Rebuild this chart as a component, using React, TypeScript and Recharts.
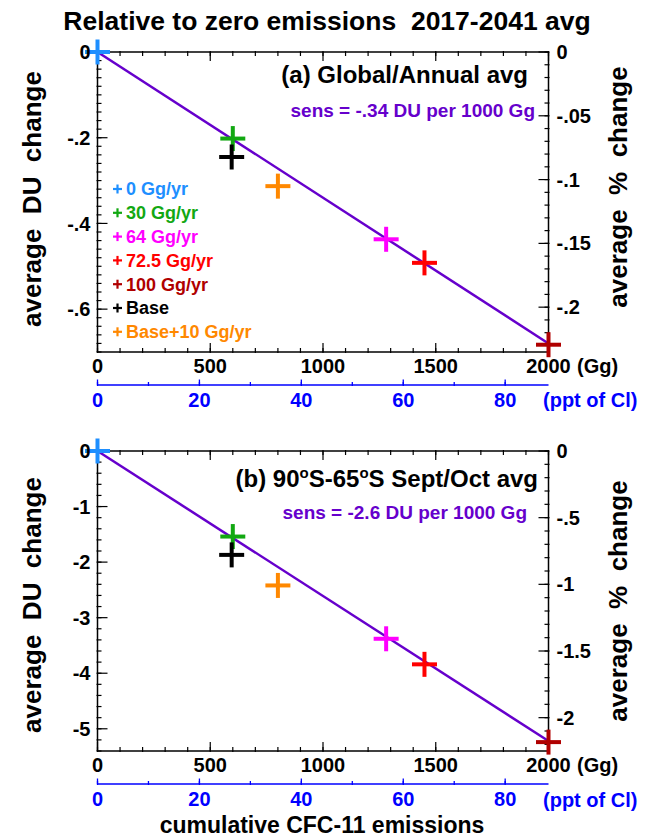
import React from 'react';
import { ComposedChart, Scatter, XAxis, YAxis } from 'recharts';

// ---- data ----
const scenarioLabels = ['0 Gg/yr', '30 Gg/yr', '64 Gg/yr', '72.5 Gg/yr', '100 Gg/yr', 'Base', 'Base+10 Gg/yr'];
const scenarioColors = ['#1e8fff', '#12a812', '#ff00ff', '#ff0000', '#b00000', '#000000', '#ff8800'];
const cumulativeGg = [0, 600, 1280, 1450, 2000, 595, 800];
const globalDU = [0, -0.202, -0.437, -0.492, -0.683, -0.245, -0.313];
const polarDU = [0, -1.54, -3.38, -3.84, -5.24, -1.87, -2.42];
const fitGg = [0, 2000];
const globalFitDU = [0, -0.68];
const polarFitDU = [0, -5.22];
// reference column ozone used for the % axis (DU), and Cl loading for 2000 Gg
const globalOzoneDU = 297.7;
const polarOzoneDU = 240;
const pptPer2000Gg = 88.5;

// ---- tick labels ----
const ggMajorTicks = [0, 500, 1000, 1500, 2000];
const pptMajorTicks = [0, 20, 40, 60, 80];
const globalDUTicks = [0, -0.2, -0.4, -0.6];
const globalPctTicks = [0, -0.05, -0.1, -0.15, -0.2];
const polarDUTicks = [0, -1, -2, -3, -4, -5];
const polarPctTicks = [0, -0.5, -1, -1.5, -2];

const FONT = "'Liberation Sans', Arial, Helvetica, sans-serif";
const LINE_COLOR = '#6600cc';
const PPT_COLOR = '#0000ff';

const r6 = (v: number) => Math.round(v * 1e6) / 1e6;
const stepsDown = (lo: number, step: number) => {
  const out: number[] = [];
  for (let i = 0; ; i++) {
    const v = r6(-i * step);
    if (v < lo - 1e-9) break;
    out.push(v === 0 ? 0 : v);
  }
  return out;
};
const stepsUp = (hi: number, step: number) => {
  const out: number[] = [];
  for (let i = 0; ; i++) {
    const v = r6(i * step);
    if (v > hi + 1e-9) break;
    out.push(v);
  }
  return out;
};
const isMajor = (v: number, majors: number[]) => majors.some((m) => Math.abs(m - v) < 1e-7);
const fmt = (v: number) => (v === 0 ? '0' : String(v).replace('-0.', '-.'));
const majorFormatter = (majors: number[]) => (v: number) => (isMajor(v, majors) ? fmt(v) : '');
const noLabel = () => '';

const tickText = { fill: '#000', fontSize: 20, fontWeight: 'bold', fontFamily: FONT };
const pptTickText = { fill: PPT_COLOR, fontSize: 20, fontWeight: 'bold', fontFamily: FONT };
const blackTick = { stroke: '#000', strokeWidth: 1.2 };
const blueTick = { stroke: PPT_COLOR, strokeWidth: 1.3 };
const frame = { stroke: '#000', strokeWidth: 1.5 };

const CrossShape = (props: any) => {
  const { cx, cy, payload } = props;
  if (cx == null || cy == null) return <g />;
  const c = payload.color;
  const h = 12.5;
  return (
    <g>
      <line x1={cx - h} x2={cx + h} y1={cy} y2={cy} stroke={c} strokeWidth={4} />
      <line x1={cx} x2={cx} y1={cy - h} y2={cy + h} stroke={c} strokeWidth={4} />
    </g>
  );
};

const NoShape = () => <g />;

type PanelProps = {
  du: number[];
  fitDU: number[];
  ozone: number;
  duDomain: [number, number];
  duStep: number;
  duMajors: number[];
  pctDomain: [number, number];
  pctStep: number;
  pctMajors: number[];
};

const ggTicks = stepsUp(2000, 100);
const pptTicks = stepsUp(pptPer2000Gg, 10);

// axis ids are named so that both declaration order and alphabetical order
// stack them the same way (first = closest to the plot)
const Panel = ({ du, fitDU, ozone, duDomain, duStep, duMajors, pctDomain, pctStep, pctMajors }: PanelProps) => {
  const points = cumulativeGg.map((x, i) => ({ x, y: du[i], color: scenarioColors[i], name: scenarioLabels[i] }));
  const fit = fitGg.map((x, i) => ({ x, y: fitDU[i] }));
  // the same points expressed in the secondary units (ppt of Cl, % of column)
  const pctPoints = cumulativeGg.map((x, i) => ({ x, y: (du[i] / ozone) * 100 }));
  const pptPoints = cumulativeGg.map((x, i) => ({ x: (x / 2000) * pptPer2000Gg, y: du[i] }));
  const duTicks = stepsDown(duDomain[0], duStep);
  const pctTicks = stepsDown(pctDomain[0], pctStep);
  const hidden = { shape: NoShape, isAnimationActive: false, legendType: 'none' as const };
  return (
    <ComposedChart width={645} height={420} margin={{ top: 47, right: 0, bottom: 5, left: 0 }}>
      {/* bottom: frame + major ticks, minor ticks + Gg labels, ppt line + major ticks, ppt minor + labels */}
      <XAxis xAxisId="b1" dataKey="x" type="number" orientation="bottom" domain={[0, 2000]}
        allowDataOverflow ticks={ggMajorTicks} interval={0} height={1} axisLine={frame}
        tickLine={blackTick} tickSize={-9} tickMargin={0} tick={tickText} tickFormatter={noLabel} />
      <XAxis xAxisId="b2" dataKey="x" type="number" orientation="bottom" domain={[0, 2000]}
        ticks={ggTicks} interval={0} height={32} axisLine={false} tickLine={blackTick}
        tickSize={-5} tickMargin={11} tick={tickText} tickFormatter={majorFormatter(ggMajorTicks)} />
      <XAxis xAxisId="b3" dataKey="x" type="number" orientation="bottom" domain={[0, pptPer2000Gg]}
        allowDataOverflow ticks={pptMajorTicks} interval={0} height={1}
        axisLine={{ stroke: PPT_COLOR, strokeWidth: 1.5 }} tickLine={blueTick} tickSize={-5.5}
        tickMargin={0} tick={pptTickText} tickFormatter={noLabel} />
      <XAxis xAxisId="b4" dataKey="x" type="number" orientation="bottom" domain={[0, pptPer2000Gg]}
        allowDataOverflow ticks={pptTicks} interval={0} height={29} axisLine={false} tickLine={blueTick}
        tickSize={-4} tickMargin={11} tick={pptTickText} tickFormatter={majorFormatter(pptMajorTicks)} />
      {/* top: frame + major ticks, minor ticks */}
      <XAxis xAxisId="t1" dataKey="x" type="number" orientation="top" domain={[0, 2000]}
        allowDataOverflow ticks={ggMajorTicks} interval={0} height={1} axisLine={frame}
        tickLine={blackTick} tickSize={-9} tickMargin={0} tick={tickText} tickFormatter={noLabel} />
      <XAxis xAxisId="t2" dataKey="x" type="number" orientation="top" domain={[0, 2000]}
        allowDataOverflow ticks={ggTicks} interval={0} height={4} axisLine={false}
        tickLine={blackTick} tickSize={-5} tickMargin={0} tick={tickText} tickFormatter={noLabel} />
      {/* left */}
      <YAxis yAxisId="l1" dataKey="y" type="number" orientation="left" domain={duDomain}
        allowDataOverflow ticks={duMajors} interval={0} width={1} axisLine={frame}
        tickLine={blackTick} tickSize={-10} tickMargin={0} tick={tickText} tickFormatter={noLabel} />
      <YAxis yAxisId="l2" dataKey="y" type="number" orientation="left" domain={duDomain}
        ticks={duTicks} interval={0} width={96.5} axisLine={false} tickLine={blackTick}
        tickSize={-5} tickMargin={11} tick={tickText} tickFormatter={majorFormatter(duMajors)} />
      {/* right */}
      <YAxis yAxisId="r1" dataKey="y" type="number" orientation="right" domain={pctDomain}
        allowDataOverflow ticks={pctMajors} interval={0} width={1} axisLine={frame}
        tickLine={blackTick} tickSize={-10} tickMargin={0} tick={tickText} tickFormatter={noLabel} />
      <YAxis yAxisId="r2" dataKey="y" type="number" orientation="right" domain={pctDomain}
        allowDataOverflow ticks={pctTicks} interval={0} width={95.5} axisLine={false}
        tickLine={blackTick} tickSize={-5} tickMargin={12} tick={tickText}
        tickFormatter={majorFormatter(pctMajors)} />

      {/* hidden series binding the secondary axes */}
      <Scatter data={points} xAxisId="b1" yAxisId="l1" dataKey="y" {...hidden} />
      <Scatter data={pctPoints} xAxisId="t2" yAxisId="r2" dataKey="y" {...hidden} />
      <Scatter data={pctPoints} xAxisId="t1" yAxisId="r1" dataKey="y" {...hidden} />
      <Scatter data={pptPoints} xAxisId="b4" yAxisId="l2" dataKey="y" {...hidden} />
      <Scatter data={pptPoints} xAxisId="b3" yAxisId="l2" dataKey="y" {...hidden} />

      {/* visible series */}
      <Scatter
        data={fit}
        xAxisId="b2"
        yAxisId="l2"
        dataKey="y"
        line={{ stroke: LINE_COLOR, strokeWidth: 2.5 }}
        shape={NoShape}
        isAnimationActive={false}
      />
      <Scatter
        data={points}
        xAxisId="b2"
        yAxisId="l2"
        dataKey="y"
        shape={CrossShape}
        isAnimationActive={false}
      />
    </ComposedChart>
  );
};

const T = (p: any) => (
  <text
    {...p}
    dy="0.36em"
    style={{ fontFamily: FONT, fontWeight: 'bold', whiteSpace: 'pre', ...(p.style || {}) }}
  />
);

const Legend = () => (
  <g>
    {scenarioLabels.map((lab, i) => {
      const y = 189 + 23.8 * i;
      const c = scenarioColors[i];
      return (
        <g key={lab}>
          <line x1={113} x2={122} y1={y} y2={y} stroke={c} strokeWidth={2.2} />
          <line x1={117.5} x2={117.5} y1={y - 4.5} y2={y + 4.5} stroke={c} strokeWidth={2.2} />
          <T x={126} y={y} fill={c} fontSize={18}>{lab}</T>
        </g>
      );
    })}
  </g>
);

export default function App() {
  return (
    <div style={{ position: 'absolute', left: 0, top: 0, width: 645, height: 837, background: '#fff' }}>
      <div style={{ position: 'absolute', left: 0, top: 0 }}>
        <Panel
          du={globalDU}
          fitDU={globalFitDU}
          ozone={globalOzoneDU}
          duDomain={[-0.7, 0]}
          duStep={0.02}
          duMajors={globalDUTicks}
          pctDomain={[-(0.7 / globalOzoneDU) * 100, 0]}
          pctStep={0.01}
          pctMajors={globalPctTicks}
        />
      </div>
      <div style={{ position: 'absolute', left: 0, top: 399 }}>
        <Panel
          du={polarDU}
          fitDU={polarFitDU}
          ozone={polarOzoneDU}
          duDomain={[-5.4, 0]}
          duStep={0.2}
          duMajors={polarDUTicks}
          pctDomain={[-(5.4 / polarOzoneDU) * 100, 0]}
          pctStep={0.1}
          pctMajors={polarPctTicks}
        />
      </div>
      <svg
        width={645}
        height={837}
        style={{ position: 'absolute', left: 0, top: 0, pointerEvents: 'none' }}
      >
        <T x={327} y={20} textAnchor="middle" fontSize={26.5} fill="#000">
          Relative to zero emissions  2017-2041 avg
        </T>
        {/* panel a */}
        <T x={528} y={74} textAnchor="end" fontSize={24} fill="#000">(a) Global/Annual avg</T>
        <T x={535} y={110} textAnchor="end" fontSize={19} fill={LINE_COLOR}>sens = -.34 DU per 1000 Gg</T>
        <Legend />
        <T x={32} y={199} textAnchor="middle" fontSize={26} fill="#000" transform="rotate(-90 32 199)">
          average  DU  change
        </T>
        <T x={618} y={187} textAnchor="middle" fontSize={26} fill="#000" transform="rotate(-90 618 187)">
          average  %  change
        </T>
        <T x={577} y={366} fontSize={20} fill="#000">(Gg)</T>
        <T x={543} y={400} fontSize={20} fill={PPT_COLOR}>(ppt of Cl)</T>
        {/* panel b */}
        <T x={538} y={478} textAnchor="end" fontSize={24} fill="#000">
          (b) 90<tspan fontSize={15} dy={-9}>o</tspan>
          <tspan dy={9}>S-65</tspan>
          <tspan fontSize={15} dy={-9}>o</tspan>
          <tspan dy={9}>S Sept/Oct avg</tspan>
        </T>
        <T x={527} y={512} textAnchor="end" fontSize={19} fill={LINE_COLOR}>sens = -2.6 DU per 1000 Gg</T>
        <T x={32} y={605} textAnchor="middle" fontSize={26} fill="#000" transform="rotate(-90 32 605)">
          average  DU  change
        </T>
        <T x={618} y={601} textAnchor="middle" fontSize={26} fill="#000" transform="rotate(-90 618 601)">
          average  %  change
        </T>
        <T x={577} y={765} fontSize={20} fill="#000">(Gg)</T>
        <T x={543} y={800} fontSize={20} fill={PPT_COLOR}>(ppt of Cl)</T>
        <T x={322} y={825} textAnchor="middle" fontSize={23} fill="#000">cumulative CFC-11 emissions</T>
      </svg>
    </div>
  );
}
